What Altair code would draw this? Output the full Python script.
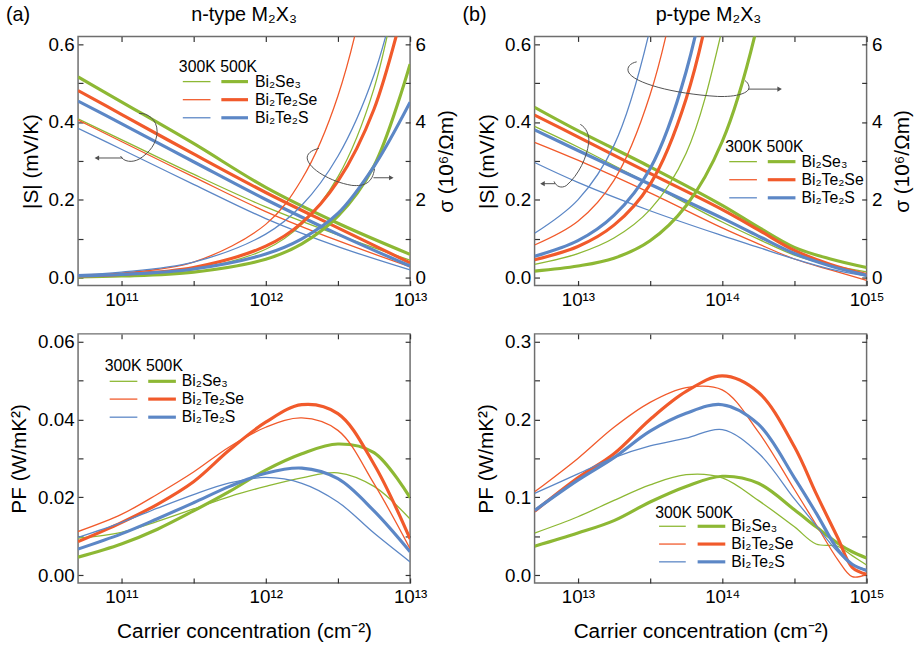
import altair as alt
import pandas as pd

FONT = "Liberation Sans"
GREEN, ORANGE, BLUE = "#8DB834", "#F15A2B", "#5C87C6"
GRAY = "#505050"
W_THIN, W_THICK = 1.3, 3.2

MATERIALS = ["Bi₂Se₃", "Bi₂Te₂Se", "Bi₂Te₂S"]
COLORS = [GREEN, ORANGE, BLUE]
TEMPS = ["300K", "500K"]

# ---------------- (a) n-type, x = log10(n / cm^-2) ----------------
N_S_LOG = [10.7, 11.0, 11.5, 12.0, 12.5, 13.0]
N_S = {
    ("Bi₂Se₃", "300K"): [0.408, 0.355, 0.266, 0.182, 0.110, 0.045],
    ("Bi₂Se₃", "500K"): [0.516, 0.452, 0.345, 0.232, 0.140, 0.060],
    ("Bi₂Te₂Se", "300K"): [0.405, 0.350, 0.259, 0.170, 0.095, 0.028],
    ("Bi₂Te₂Se", "500K"): [0.481, 0.420, 0.318, 0.219, 0.128, 0.038],
    ("Bi₂Te₂S", "300K"): [0.384, 0.330, 0.240, 0.152, 0.080, 0.020],
    ("Bi₂Te₂S", "500K"): [0.454, 0.396, 0.298, 0.201, 0.112, 0.030],
}
N_SIG_LOG = [10.7, 11.0, 11.5, 12.0, 12.25, 12.5, 12.75, 13.0]
N_SIG = {
    ("Bi₂Se₃", "300K"): [0.027, 0.058, 0.205, 0.73, 1.37, 2.59, 4.86, 9.2],
    ("Bi₂Se₃", "500K"): [0.021, 0.043, 0.144, 0.475, 0.87, 1.58, 2.87, 5.49],
    ("Bi₂Te₂Se", "300K"): [0.056, 0.117, 0.40, 1.37, 2.53, 4.67, 8.6, 16.0],
    ("Bi₂Te₂Se", "500K"): [0.044, 0.086, 0.263, 0.81, 1.41, 2.48, 4.33, 7.6],
    ("Bi₂Te₂S", "300K"): [0.078, 0.144, 0.40, 1.12, 1.86, 3.12, 5.21, 8.7],
    ("Bi₂Te₂S", "500K"): [0.045, 0.082, 0.224, 0.61, 1.0, 1.65, 2.86, 4.51],
}
N_PF_LOG = [10.7, 11.0, 11.25, 11.5, 11.75, 12.0, 12.25, 12.5, 12.75, 13.0]
N_PF = {
    ("Bi₂Se₃", "300K"): [0.0095, 0.0110, 0.0138, 0.0170, 0.0202, 0.0228, 0.0250, 0.0263, 0.0228, 0.0144],
    ("Bi₂Se₃", "500K"): [0.0046, 0.0080, 0.0118, 0.0165, 0.0215, 0.0270, 0.0312, 0.0337, 0.0315, 0.0199],
    ("Bi₂Te₂Se", "300K"): [0.0112, 0.0156, 0.0208, 0.0265, 0.0330, 0.0380, 0.0404, 0.0372, 0.0235, 0.0068],
    ("Bi₂Te₂Se", "500K"): [0.0086, 0.0135, 0.0182, 0.0240, 0.0322, 0.0393, 0.0438, 0.0415, 0.0285, 0.0093],
    ("Bi₂Te₂S", "300K"): [0.0097, 0.0135, 0.0172, 0.0207, 0.0237, 0.0251, 0.0236, 0.0188, 0.0108, 0.0034],
    ("Bi₂Te₂S", "500K"): [0.0067, 0.0106, 0.0145, 0.0186, 0.0228, 0.0262, 0.0275, 0.0248, 0.0165, 0.0060],
}

# ---------------- (b) p-type ----------------
P_S_LOG = [12.7, 13.0, 13.5, 14.0, 14.25, 14.5, 14.75, 15.0]
P_S = {
    ("Bi₂Se₃", "300K"): [0.389, 0.336, 0.240, 0.143, 0.099, 0.058, 0.032, 0.015],
    ("Bi₂Se₃", "500K"): [0.438, 0.378, 0.285, 0.186, 0.130, 0.078, 0.048, 0.026],
    ("Bi₂Te₂Se", "300K"): [0.348, 0.302, 0.218, 0.128, 0.087, 0.048, 0.020, -0.007],
    ("Bi₂Te₂Se", "500K"): [0.418, 0.362, 0.268, 0.175, 0.123, 0.070, 0.034, 0.008],
    ("Bi₂Te₂S", "300K"): [0.296, 0.245, 0.172, 0.108, 0.078, 0.048, 0.022, 0.004],
    ("Bi₂Te₂S", "500K"): [0.380, 0.327, 0.240, 0.153, 0.107, 0.062, 0.030, 0.006],
}
P_SIG_LOG = [12.7, 13.0, 13.25, 13.5, 13.75, 14.0, 14.25, 14.5]
P_SIG = {
    ("Bi₂Se₃", "300K"): [0.34, 0.62, 1.02, 1.75, 3.2, 6.4, 11.5, 20.0],
    ("Bi₂Se₃", "500K"): [0.17, 0.30, 0.50, 0.95, 1.85, 3.5, 6.6, 12.0],
    ("Bi₂Te₂Se", "300K"): [0.84, 1.45, 2.5, 4.7, 8.8, 16.0, 30.0, 55.0],
    ("Bi₂Te₂Se", "500K"): [0.46, 0.80, 1.35, 2.4, 4.6, 8.8, 17.0, 32.0],
    ("Bi₂Te₂S", "300K"): [1.14, 2.0, 3.4, 6.4, 12.0, 22.0, 40.0, 70.0],
    ("Bi₂Te₂S", "500K"): [0.55, 0.95, 1.6, 2.8, 5.3, 10.0, 19.0, 35.0],
}
P_PF_LOG = [12.7, 13.0, 13.25, 13.5, 13.75, 14.0, 14.25, 14.5, 14.65, 14.8, 14.9, 15.0]
P_PF = {
    ("Bi₂Se₃", "300K"): [0.054, 0.075, 0.096, 0.116, 0.129, 0.125, 0.096, 0.062, 0.040, 0.037, 0.025, 0.013],
    ("Bi₂Se₃", "500K"): [0.037, 0.054, 0.070, 0.094, 0.114, 0.127, 0.118, 0.084, 0.062, 0.041, 0.030, 0.022],
    ("Bi₂Te₂Se", "300K"): [0.107, 0.150, 0.190, 0.222, 0.241, 0.238, 0.184, 0.110, 0.065, 0.020, -0.002, 0.001],
    ("Bi₂Te₂Se", "500K"): [0.082, 0.125, 0.156, 0.200, 0.236, 0.256, 0.235, 0.165, 0.105, 0.048, 0.010, 0.001],
    ("Bi₂Te₂S", "300K"): [0.105, 0.130, 0.151, 0.166, 0.176, 0.187, 0.157, 0.098, 0.064, 0.030, 0.014, 0.007],
    ("Bi₂Te₂S", "500K"): [0.083, 0.122, 0.151, 0.185, 0.208, 0.219, 0.194, 0.125, 0.080, 0.033, 0.014, 0.006],
}

# axis tick values / labels
N_XTICKS = [1e11, 10 ** 11.5, 1e12, 10 ** 12.5, 1e13]
P_XTICKS = [1e13, 10 ** 13.5, 1e14, 10 ** 14.5, 1e15]
N_XEXPR = "datum.value == 1e11 ? '10¹¹' : datum.value == 1e12 ? '10¹²' : datum.value == 1e13 ? '10¹³' : ''"
P_XEXPR = "datum.value == 1e13 ? '10¹³' : datum.value == 1e14 ? '10¹⁴' : datum.value == 1e15 ? '10¹⁵' : ''"
S_TICKS = [0.0, 0.1, 0.2, 0.3, 0.4, 0.5, 0.6]
SIG_TICKS = [0, 1, 2, 3, 4, 5, 6]
NPF_TICKS = [0.0, 0.01, 0.02, 0.03, 0.04, 0.05, 0.06]
PPF_TICKS = [0.0, 0.05, 0.1, 0.15, 0.2, 0.25, 0.3]
S_EXPR = "round(datum.value * 10) % 2 == 0 ? format(datum.value, '.1f') : ''"
SIG_EXPR = "round(datum.value) % 2 == 0 ? format(datum.value, 'd') : ''"
NPF_EXPR = "round(datum.value * 100) % 2 == 0 ? format(datum.value, '.2f') : ''"
PPF_EXPR = "round(datum.value * 20) % 2 == 0 ? format(datum.value, '.1f') : ''"

W, H = 336, 252
ONE = pd.DataFrame({"k": [0]})
TICK_FS, TITLE_FS = 19, 21


def long_df(xlog, series):
    rows = []
    for (mat, t), vals in series.items():
        for xl, v in zip(xlog, vals):
            rows.append({"n": 10 ** xl, "v": v, "mat": mat, "T": t, "sid": mat + t})
    return pd.DataFrame(rows)


def axis(orient, values, label_expr=None, title=None, **kw):
    p = dict(orient=orient, values=values, domain=False, grid=False, ticks=True,
             tickSize=5, offset=-5, tickColor="#333333", tickWidth=1.2,
             labelFont=FONT, labelFontSize=TICK_FS, labelColor="black", labelPadding=4,
             titleFont=FONT, titleFontSize=TITLE_FS, titleFontWeight="normal", titleColor="black",
             labelOverlap=False, labelFlush=False, title=title)
    if label_expr is None:
        p["labels"] = False
    else:
        p["labelExpr"] = label_expr
    p.update(kw)
    return alt.Axis(**p)


def lines(df, xdom, ydom, xax, yax, opacity=1.0):
    return alt.Chart(df).mark_line(clip=True, interpolate="catmull-rom", strokeOpacity=opacity).encode(
        x=alt.X("n:Q", scale=alt.Scale(type="log", domain=xdom, nice=False), axis=xax),
        y=alt.Y("v:Q", scale=alt.Scale(domain=ydom, nice=False, zero=False), axis=yax),
        color=alt.Color("mat:N", scale=alt.Scale(domain=MATERIALS, range=COLORS), legend=None),
        strokeWidth=alt.StrokeWidth("T:O", scale=alt.Scale(domain=TEMPS, range=[W_THIN, W_THICK]), legend=None),
        detail="sid:N",
    )


def txt(s, x, y, size=16, align="left", baseline="alphabetic"):
    return alt.Chart(ONE).mark_text(text=s, font=FONT, fontSize=size, align=align,
                                    baseline=baseline, color="black").encode(x=alt.value(x), y=alt.value(y))


def seg(x1, x2, y, color, width):
    return alt.Chart(ONE).mark_rule(color=color, strokeWidth=width, strokeCap="butt").encode(
        x=alt.value(x1), x2=alt.value(x2), y=alt.value(y))


def legend(hx, hy, rows, thin, thick, lx):
    out = [txt("300K 500K", hx, hy)]
    for mat, col, ry in zip(MATERIALS, COLORS, rows):
        out += [seg(thin[0], thin[1], ry, col, W_THIN),
                seg(thick[0], thick[1], ry, col, W_THICK),
                txt(mat, lx, ry, baseline="middle")]
    return out


def loop(cmds, arrow):
    xs, ys = [], []
    for c in cmds:
        xs += list(c[1::2])
        ys += list(c[2::2])
    cx, cy = (min(xs) + max(xs)) / 2, (min(ys) + max(ys)) / 2
    h = max(max(xs) - min(xs), max(ys) - min(ys)) / 2 + 1
    parts = []
    for c in cmds:
        nums = c[1:]
        pts = " ".join(f"{(nums[i] - cx) / h:.4f} {(nums[i + 1] - cy) / h:.4f}" for i in range(0, len(nums), 2))
        parts.append(c[0] + " " + pts)
    shape = " ".join(parts)
    curve = alt.Chart(ONE).mark_point(shape=shape, filled=False, size=(2 * h) ** 2, color=GRAY,
                                      strokeWidth=1, opacity=1).encode(x=alt.value(cx), y=alt.value(cy))
    x1, x2, y = arrow
    head = "triangle-left" if x2 < x1 else "triangle-right"
    hx = x2 + (2 if x2 < x1 else -2)
    line = seg(x1, hx, y, GRAY, 1)
    tip = alt.Chart(ONE).mark_point(shape=head, filled=True, size=28, color=GRAY, opacity=1).encode(
        x=alt.value(hx), y=alt.value(y))
    return [curve, line, tip]


def top_panel(dS, dG, xdom, xticks, xexpr, extras):
    s = lines(dS, xdom, [-0.02, 0.62],
              axis("bottom", xticks, xexpr, None, labelPadding=5),
              axis("left", S_TICKS, S_EXPR, "|S| (mV/K)", titlePadding=7))
    g = lines(dG, xdom, [-0.2, 6.2],
              axis("top", xticks),
              axis("right", SIG_TICKS, SIG_EXPR, "σ (10⁶/Ωm)", titlePadding=10, titleAngle=270,
                   titleBaseline="top", labelPadding=5))
    return alt.layer(s, g, *extras).resolve_scale(x="independent", y="independent").properties(width=W, height=H)


def pf_panel(dP, xdom, xticks, xexpr, ydom, yticks, yexpr, extras):
    p = lines(dP, xdom, ydom,
              axis("bottom", xticks, xexpr, "Carrier concentration (cm⁻²)", labelPadding=5, titlePadding=14),
              axis("left", yticks, yexpr, "PF (W/mK²)", titlePadding=8))
    m = lines(dP, xdom, ydom, axis("top", xticks), axis("right", yticks), opacity=0)
    return alt.layer(p, m, *extras).resolve_scale(x="independent", y="independent").properties(width=W, height=H)


NXD = [10 ** 10.7, 1e13]
PXD = [10 ** 12.7, 1e15]

tl = top_panel(
    long_df(N_S_LOG, N_S), long_df(N_SIG_LOG, N_SIG), NXD, N_XTICKS, N_XEXPR,
    [txt("(a)", -73, -16, size=20), txt("n-type M₂X₃", 168, -16, size=20, align="center")]
    + legend(102, 36, [45.7, 64, 82.3], (106, 134), (145, 172), 179)
    + loop([("M", 61.7, 78), ("C", 70, 77, 80, 84, 80, 96), ("C", 80, 108, 72, 118, 62, 124),
            ("C", 55, 128, 46, 127, 43, 121)], (45, 17, 123))
    + loop([("M", 243.7, 113.3), ("C", 236, 115, 231, 119, 232, 124), ("C", 234, 134, 255, 147, 277, 150.7),
            ("C", 290, 152, 298, 148, 300, 134)], (299, 319, 143)),
)
tr = top_panel(
    long_df(P_S_LOG, P_S), long_df(P_SIG_LOG, P_SIG), PXD, P_XTICKS, P_XEXPR,
    [txt("(b)", -73, -16, size=20), txt("p-type M₂X₃", 176, -16, size=20, align="center")]
    + legend(193, 117, [126.7, 145, 163.3], (197, 225), (236, 264), 270)
    + loop([("M", 103.3, 25.7), ("C", 97, 27, 93, 31, 95, 36), ("C", 100, 47, 140, 58, 185, 60.7),
            ("C", 205, 61.5, 218, 57, 217, 51), ("C", 216.5, 48, 215, 46, 213, 44.7)], (216, 250, 53.3))
    + loop([("M", 46.3, 89), ("C", 52, 92, 56, 100, 54.7, 108), ("C", 53, 122, 45, 140, 32, 151),
            ("C", 27, 154, 22, 152, 19.7, 146.7)], (21, 6, 149)),
)
bl = pf_panel(long_df(N_PF_LOG, N_PF), NXD, N_XTICKS, N_XEXPR, [-0.002, 0.062], NPF_TICKS, NPF_EXPR,
              legend(27, 38, [48, 66, 84.3], (32, 60), (71, 99), 105))
br = pf_panel(long_df(P_PF_LOG, P_PF), PXD, P_XTICKS, P_XEXPR, [-0.01, 0.31], PPF_TICKS, PPF_EXPR,
              legend(122, 186, [194.7, 212.7, 230.7], (126, 153), (165, 193), 199))

chart = alt.concat(tl, tr, bl, br, columns=2, spacing={"row": 22, "column": 4}, align="each").properties(
    padding={"left": 5, "top": 0, "right": 2, "bottom": 2}
).configure_view(stroke="#6E6E6E", strokeWidth=1.5)

chart.save("out.html", embed_options={"renderer": "svg", "actions": False})
